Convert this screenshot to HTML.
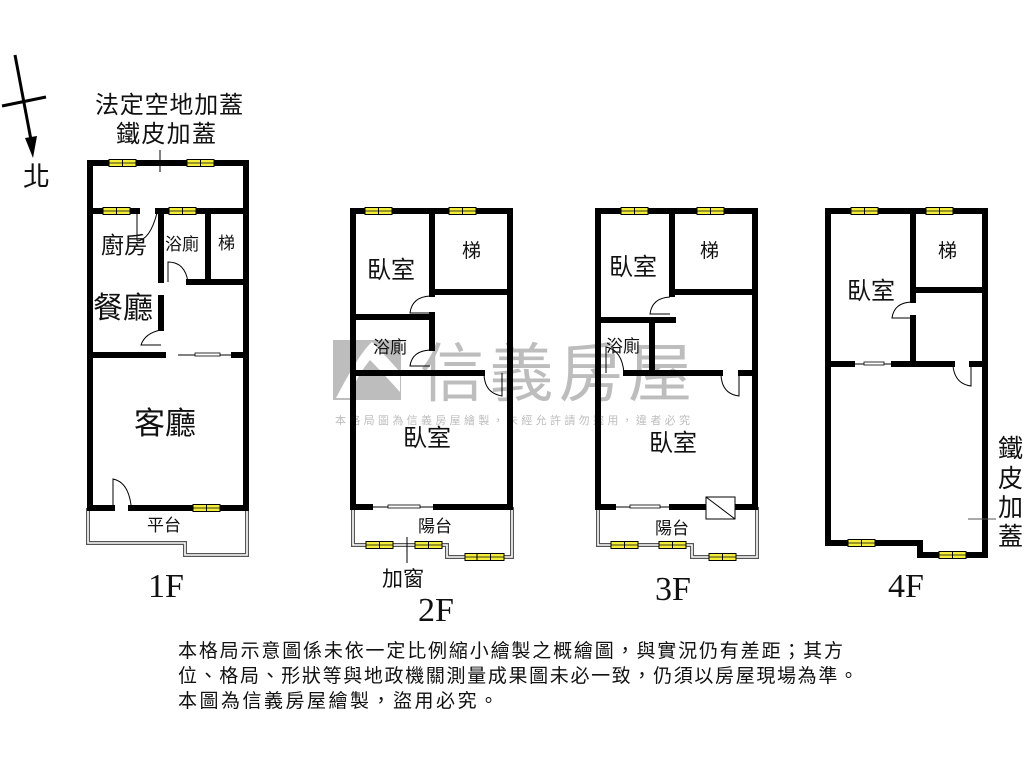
<!DOCTYPE html>
<html><head><meta charset="utf-8"><style>
html,body{margin:0;padding:0;background:#fff;}
svg{display:block;}
text{font-family:"Liberation Sans","Noto Sans CJK TC",sans-serif;fill:#111;}
.s{font-family:"Liberation Serif","Noto Serif CJK SC",serif;}
.w{stroke:#000;stroke-width:6;fill:none;stroke-linecap:square;}
.dl{fill:none;stroke:#555;stroke-width:4;}
.dl2{fill:none;stroke:#fff;stroke-width:1.6;}
.dr{fill:none;stroke:#000;stroke-width:1;}
</style></head><body>
<svg width="1024" height="768" viewBox="0 0 1024 768" xmlns="http://www.w3.org/2000/svg">
<defs>
<g id="win"><rect x="-1" y="-3.5" width="27" height="7" fill="#f2ee3a" stroke="#000" stroke-width="1"/><line x1="12.5" y1="-3.5" x2="12.5" y2="3.5" stroke="#000" stroke-width="1"/><line x1="-1" y1="0" x2="26" y2="0" stroke="#000" stroke-width="0.8"/></g>
</defs>

<g opacity="0.55">
<rect x="333" y="340" width="68" height="60" fill="#888"/>
<path d="M336 398 Q360 352 372 342 Q385 355 400 372 L400 392 Q380 370 370 360 Q355 378 350 398Z" fill="#fff"/>
<text x="420" y="396" font-size="64" style="fill:#888" textLength="272">信義房屋</text>
<text x="335" y="424" font-size="11" style="fill:#888" textLength="355">本格局圖為信義房屋繪製，未經允許請勿盜用，違者必究</text>
</g>

<line x1="15" y1="55" x2="31" y2="140" stroke="#000" stroke-width="3"/>
<polygon points="25,138 37,136 33,158" fill="#000"/>
<line x1="2" y1="106" x2="46" y2="97" stroke="#000" stroke-width="3"/>
<text x="23" y="186" font-size="27">北</text>

<text x="95" y="113" font-size="24" textLength="148">法定空地加蓋</text>
<text x="116" y="142" font-size="24" textLength="100">鐵皮加蓋</text>
<line x1="160" y1="150" x2="160" y2="172" stroke="#000" stroke-width="1"/>

<!-- 1F -->
<path class="dl" d="M88 508 V543 H185 V555 H247 V508"/>
<path class="dl2" d="M88 508 V543 H185 V555 H247 V508"/>
<path class="w" d="M90 163 H246 V508"/>
<path class="w" d="M90 163 V508 H112"/>
<path class="w" d="M131 508 H246"/>
<path class="w" d="M90 211 H137"/>
<path class="w" d="M158 211 H246"/>
<path class="w" d="M161 211 V280"/>
<path class="w" d="M161 298 V328"/>
<path class="w" d="M189 282 H246"/>
<path class="w" d="M208 211 V282"/>
<path class="w" d="M90 355 H163"/>
<path class="w" d="M234 355 H246"/>
<line x1="178" y1="355" x2="234" y2="355" stroke="#000" stroke-width="1"/>
<rect x="195" y="353" width="25" height="3" fill="#fff" stroke="#000" stroke-width="0.8"/>
<path class="dr" d="M157 213 Q150 240 137 241 M137 241 V213"/>
<path class="dr" d="M168 282 V262 Q185 262 188 282"/>
<path class="dr" d="M161 330 Q145 333 141 345 H161"/>
<path class="dr" d="M113 508 V479 Q128 482 131 505"/>
<use href="#win" x="110" y="163"/><use href="#win" x="188" y="163"/>
<use href="#win" x="104" y="211"/><use href="#win" x="170" y="211"/>
<use href="#win" x="194" y="508"/>
<text x="101" y="253" font-size="23">廚房</text>
<text x="165" y="250" font-size="17">浴廁</text>
<text x="218" y="249" font-size="17">梯</text>
<text x="93" y="318" font-size="30">餐廳</text>
<text x="134" y="434" font-size="31">客廳</text>
<text x="147" y="531" font-size="17">平台</text>
<text class="s" x="148" y="597" font-size="34">1F</text>

<!-- 2F -->
<path class="dl" d="M353 507 V545 H447 V557 H512 V507"/>
<path class="dl2" d="M353 507 V545 H447 V557 H512 V507"/>
<path class="w" d="M353 211 H510 V507 H436"/>
<path class="w" d="M353 211 V507 H370"/>
<line x1="370" y1="507" x2="436" y2="507" stroke="#000" stroke-width="1"/>
<rect x="388" y="505" width="32" height="3" fill="#fff" stroke="#000" stroke-width="0.8"/>
<path class="w" d="M432 211 V294"/>
<path class="w" d="M432 315 V348"/>
<path class="w" d="M432 292 H510"/>
<path class="w" d="M353 317 H432"/>
<path class="w" d="M353 373 H482"/>
<path class="dr" d="M430 296 Q412 297 410 313 H430"/>
<path class="dr" d="M430 350 Q412 351 410 366 H430"/>
<path class="dr" d="M484 373 Q484 393 502 396 V373"/>
<use href="#win" x="366" y="211"/><use href="#win" x="450" y="211"/>
<use href="#win" x="367" y="545"/><use href="#win" x="416" y="545"/>
<use href="#win" x="466" y="557"/><use href="#win" x="478" y="557"/>
<line x1="407" y1="537" x2="407" y2="563" stroke="#000" stroke-width="1"/>
<text x="367" y="278" font-size="24">臥室</text>
<text x="462" y="257" font-size="19">梯</text>
<text x="373" y="353" font-size="17">浴廁</text>
<text x="403" y="446" font-size="24">臥室</text>
<text x="418" y="532" font-size="17">陽台</text>
<text x="382" y="586" font-size="21">加窗</text>
<text class="s" x="418" y="621" font-size="34">2F</text>

<!-- 3F -->
<path class="dl" d="M598 507 V545 H692 V557 H757 V507"/>
<path class="dl2" d="M598 507 V545 H692 V557 H757 V507"/>
<path class="w" d="M598 211 H755 V507 H672"/>
<path class="w" d="M598 211 V507 H613"/>
<line x1="613" y1="507" x2="672" y2="507" stroke="#000" stroke-width="1"/>
<rect x="630" y="505" width="30" height="3" fill="#fff" stroke="#000" stroke-width="0.8"/>
<path class="w" d="M672 211 V294"/>
<path class="w" d="M672 292 H755"/>
<path class="w" d="M598 320 H673"/>
<path class="w" d="M652 320 V373"/>
<path class="w" d="M626 373 H720"/>
<path class="w" d="M741 373 H755"/>
<path class="dr" d="M670 297 Q652 298 650 314 H670"/>
<path class="dr" d="M606 373 V347 Q622 350 624 373"/>
<path class="dr" d="M739 373 V396 Q722 394 721 375"/>
<rect x="706" y="497" width="29" height="22" fill="#fff" stroke="#000" stroke-width="1"/>
<line x1="706" y1="497" x2="735" y2="519" stroke="#000" stroke-width="1"/>
<use href="#win" x="612" y="545"/><use href="#win" x="660" y="545"/>
<use href="#win" x="710" y="557"/>
<use href="#win" x="622" y="211"/><use href="#win" x="698" y="211"/>
<text x="609" y="275" font-size="24">臥室</text>
<text x="700" y="257" font-size="19">梯</text>
<text x="606" y="352" font-size="17">浴廁</text>
<text x="649" y="451" font-size="24">臥室</text>
<text x="655" y="534" font-size="17">陽台</text>
<text class="s" x="655" y="600" font-size="34">3F</text>

<!-- 4F -->
<path class="w" d="M828 211 H985 V555 H920 V543 H828 Z"/>
<path class="w" d="M913 211 V300"/>
<path class="w" d="M913 318 V364"/>
<path class="w" d="M913 290 H985"/>
<path class="w" d="M828 364 H852"/>
<path class="w" d="M894 364 H952"/>
<path class="w" d="M972 364 H985"/>
<line x1="852" y1="364" x2="894" y2="364" stroke="#000" stroke-width="1"/>
<rect x="864" y="362" width="20" height="3" fill="#fff" stroke="#000" stroke-width="0.8"/>
<path class="dr" d="M911 302 Q894 303 892 318 H911"/>
<path class="dr" d="M971 366 V386 Q955 384 953 366"/>
<use href="#win" x="852" y="211"/><use href="#win" x="927" y="211"/>
<use href="#win" x="849" y="543"/><use href="#win" x="940" y="555"/>
<line x1="968" y1="519" x2="996" y2="519" stroke="#555" stroke-width="1"/>
<text x="847" y="299" font-size="24">臥室</text>
<text x="938" y="257" font-size="19">梯</text>
<text x="998" y="457" font-size="25">鐵</text>
<text x="998" y="487" font-size="25">皮</text>
<text x="998" y="516" font-size="25">加</text>
<text x="998" y="545" font-size="25">蓋</text>
<text class="s" x="888" y="597" font-size="34">4F</text>

<text x="178" y="657" font-size="19" textLength="665">本格局示意圖係未依一定比例縮小繪製之概繪圖，與實況仍有差距；其方</text>
<text x="178" y="682" font-size="19" textLength="680">位、格局、形狀等與地政機關測量成果圖未必一致，仍須以房屋現場為準。</text>
<text x="178" y="707" font-size="19" textLength="320">本圖為信義房屋繪製，盜用必究。</text>
</svg>
</body></html>
